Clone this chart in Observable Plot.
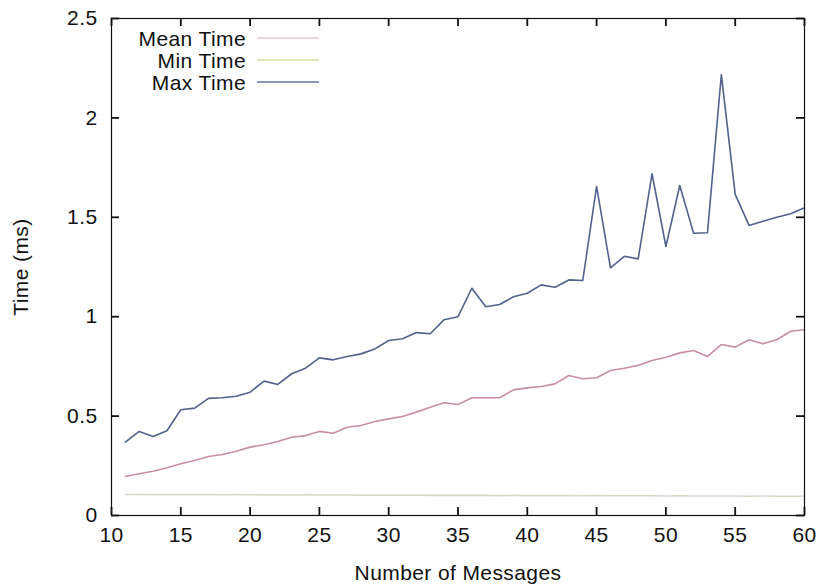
<!DOCTYPE html>
<html><head><meta charset="utf-8">
<script src="https://cdn.jsdelivr.net/npm/d3@7"></script>
<script src="https://cdn.jsdelivr.net/npm/@observablehq/plot@0.6"></script>
<style>
body{margin:0;background:#fff}
#wrap{position:relative;width:823px;height:586px}
#wrap svg text{letter-spacing:0.4px}
#legend{position:absolute;left:0;top:0;pointer-events:none}
</style>
</head><body><div id="wrap"></div>
<script>
const messages = [11,12,13,14,15,16,17,18,19,20,21,22,23,24,25,26,27,28,29,30,31,32,33,34,35,36,37,38,39,40,41,42,43,44,45,46,47,48,49,50,51,52,53,54,55,56,57,58,59,60];
const meanTime = [0.196,0.210,0.223,0.240,0.260,0.277,0.297,0.307,0.323,0.344,0.356,0.372,0.394,0.402,0.423,0.414,0.444,0.453,0.473,0.486,0.498,0.520,0.545,0.567,0.558,0.592,0.592,0.592,0.632,0.642,0.649,0.662,0.704,0.688,0.693,0.729,0.741,0.755,0.780,0.796,0.818,0.830,0.800,0.860,0.847,0.884,0.864,0.884,0.927,0.934];
const minTime = [0.106,0.106,0.105,0.106,0.105,0.105,0.105,0.104,0.105,0.104,0.104,0.104,0.103,0.104,0.103,0.103,0.103,0.102,0.103,0.102,0.102,0.102,0.101,0.102,0.101,0.101,0.101,0.100,0.101,0.100,0.100,0.100,0.100,0.099,0.100,0.099,0.099,0.099,0.099,0.098,0.099,0.098,0.098,0.098,0.098,0.097,0.098,0.097,0.097,0.097];
const maxTime = [0.369,0.423,0.397,0.426,0.532,0.540,0.589,0.592,0.600,0.620,0.676,0.659,0.713,0.741,0.793,0.783,0.800,0.813,0.838,0.880,0.889,0.920,0.914,0.985,1.000,1.143,1.050,1.061,1.100,1.118,1.160,1.148,1.185,1.182,1.655,1.246,1.304,1.291,1.719,1.353,1.660,1.420,1.422,2.218,1.615,1.459,1.480,1.500,1.518,1.548];
const seriesNames = ["Mean Time","Min Time","Max Time"];
const seriesColors = ["#c8909e","#d6dac8","#52628c"];
const legendColors = ["#e6c4d8","#dde3a8","#6a7898"];
const xTicks = [10,15,20,25,30,35,40,45,50,55,60];
const yTicks = [0,0.5,1,1.5,2,2.5];

const rows = [];
const seriesValues = [meanTime, minTime, maxTime];
[1,0,2].forEach(s => messages.forEach((m,i) => rows.push({series: seriesNames[s], x: m, y: seriesValues[s][i]})));

const W = 823, H = 586, mL = 111, mR = 19, mT = 18, mB = 71, tick = 8;
const frameW = W - mL - mR, frameH = H - mT - mB;
const font = "Liberation Sans, Arial, Helvetica, sans-serif";
const tickStyle = {stroke: "#111", strokeWidth: 1.8};
const chart = Plot.plot({
  width: W, height: H,
  marginLeft: mL, marginRight: mR, marginTop: mT, marginBottom: mB,
  style: {fontFamily: font, fontSize: "21px", color: "#111", background: "#fff"},
  x: {domain: [10,60]},
  y: {domain: [0,2.5]},
  color: {domain: seriesNames, range: seriesColors},
  marks: [
    Plot.axisX(xTicks, {anchor: "bottom", tickSize: 0, tickPadding: 12, tickFormat: d => String(d), label: "Number of Messages", labelAnchor: "center", labelOffset: 64, labelArrow: "none", fontSize: 21}),
    Plot.axisY(yTicks, {anchor: "left", tickSize: 0, tickPadding: 14, tickFormat: d => String(d), label: "Time (ms)", labelAnchor: "center", labelOffset: 98, labelArrow: "none", fontSize: 21}),
    // inward ticks on all four sides (gnuplot style)
    Plot.tickX(xTicks, {x: d => d, insetTop: frameH - tick, ...tickStyle}),
    Plot.tickX(xTicks, {x: d => d, insetBottom: frameH - tick, ...tickStyle}),
    Plot.tickY(yTicks, {y: d => d, insetRight: frameW - tick, ...tickStyle}),
    Plot.tickY(yTicks, {y: d => d, insetLeft: frameW - tick, ...tickStyle}),
    Plot.line(rows, {x: "x", y: "y", z: "series", stroke: "series", strokeWidth: 1.6}),
    Plot.frame({stroke: "#111", strokeWidth: 1.2})
  ]
});
const wrap = document.getElementById("wrap");
wrap.appendChild(chart);

// legend overlay (inside plot area, top-left)
const ns = "http://www.w3.org/2000/svg";
const lg = document.createElementNS(ns, "svg");
lg.setAttribute("id", "legend");
lg.setAttribute("width", 340); lg.setAttribute("height", 100);
const legY = [38, 60, 82];
seriesNames.forEach((name, i) => {
  const t = document.createElementNS(ns, "text");
  t.setAttribute("x", 246); t.setAttribute("y", legY[i]);
  t.setAttribute("text-anchor", "end"); t.setAttribute("dominant-baseline", "central");
  t.setAttribute("font-family", font); t.setAttribute("font-size", "21px"); t.setAttribute("fill", "#111");
  t.setAttribute("letter-spacing", "0.4px");
  t.textContent = name;
  lg.appendChild(t);
  const l = document.createElementNS(ns, "line");
  l.setAttribute("x1", 257); l.setAttribute("x2", 319);
  l.setAttribute("y1", legY[i]); l.setAttribute("y2", legY[i]);
  l.setAttribute("stroke", legendColors[i]); l.setAttribute("stroke-width", 1.6);
  lg.appendChild(l);
});
wrap.appendChild(lg);
</script>
</body></html>
